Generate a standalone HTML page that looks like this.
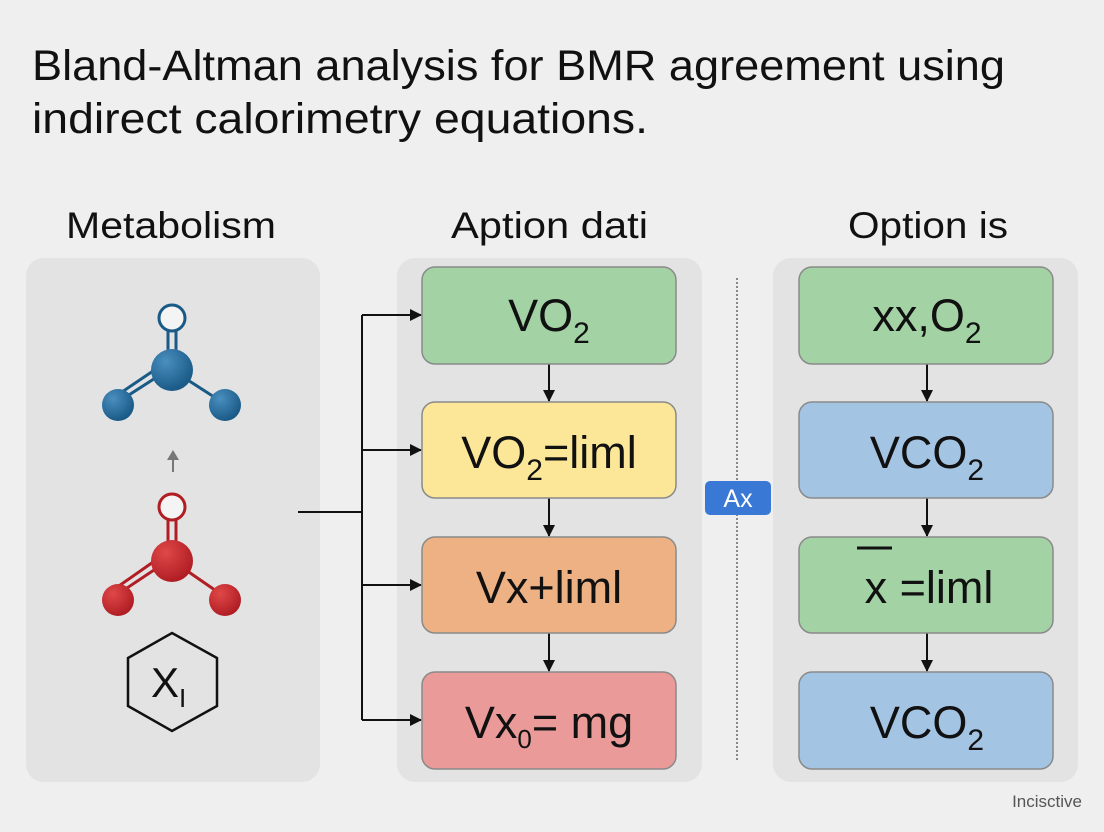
<!DOCTYPE html>
<html><head><meta charset="utf-8"><style>
html,body{margin:0;padding:0;background:#efefef;}
svg{display:block;font-family:"Liberation Sans",sans-serif;}
</style></head><body>
<svg width="1104" height="832" viewBox="0 0 1104 832" xmlns="http://www.w3.org/2000/svg">
<defs>
<marker id="ah" markerWidth="12" markerHeight="12" refX="11" refY="6" orient="auto" markerUnits="userSpaceOnUse"><path d="M0,0 L12,6 L0,12 z" fill="#111"/></marker>
<radialGradient id="bg" cx="0.35" cy="0.3" r="0.7"><stop offset="0" stop-color="#4a8fbf"/><stop offset="1" stop-color="#1a5a87"/></radialGradient>
<radialGradient id="rg" cx="0.35" cy="0.3" r="0.7"><stop offset="0" stop-color="#e04848"/><stop offset="1" stop-color="#b01e24"/></radialGradient>
</defs>
<rect width="1104" height="832" fill="#efefef"/>
<text x="32" y="80" font-size="43" fill="#111" textLength="973" lengthAdjust="spacingAndGlyphs">Bland-Altman analysis for BMR agreement using</text>
<text x="32" y="133" font-size="43" fill="#111" textLength="616" lengthAdjust="spacingAndGlyphs">indirect calorimetry equations.</text>
<text x="66" y="238" font-size="37" fill="#111" textLength="210" lengthAdjust="spacingAndGlyphs">Metabolism</text>
<text x="451" y="238" font-size="37" fill="#111" textLength="197" lengthAdjust="spacingAndGlyphs">Aption dati</text>
<text x="848" y="238" font-size="37" fill="#111" textLength="160" lengthAdjust="spacingAndGlyphs">Option is</text>
<rect x="26" y="258" width="294" height="524" rx="18" fill="#e3e3e3"/>
<rect x="397" y="258" width="305" height="524" rx="18" fill="#e3e3e3"/>
<rect x="773" y="258" width="305" height="524" rx="18" fill="#e3e3e3"/>
<g stroke="#1a5a87" stroke-width="3">
<line x1="168" y1="330" x2="168" y2="360"/><line x1="176" y1="330" x2="176" y2="360"/>
<line x1="160" y1="375" x2="118" y2="402"/><line x1="156" y1="369" x2="116" y2="396"/>
<line x1="180" y1="375" x2="225" y2="404"/>
</g>
<circle cx="172" cy="318" r="13" fill="#f4f4f4" stroke="#1a5a87" stroke-width="3"/>
<circle cx="172" cy="370" r="21" fill="url(#bg)"/>
<circle cx="118" cy="405" r="16" fill="url(#bg)"/>
<circle cx="225" cy="405" r="16" fill="url(#bg)"/>
<line x1="173" y1="472" x2="173" y2="458" stroke="#777" stroke-width="2"/>
<path d="M167,460 L173,450 L179,460 z" fill="#777"/>
<g stroke="#b01e24" stroke-width="3">
<line x1="168" y1="520" x2="168" y2="552"/><line x1="176" y1="520" x2="176" y2="552"/>
<line x1="160" y1="566" x2="118" y2="594"/><line x1="156" y1="560" x2="116" y2="588"/>
<line x1="180" y1="566" x2="225" y2="597"/>
</g>
<circle cx="172" cy="507" r="13" fill="#f4f4f4" stroke="#b01e24" stroke-width="3"/>
<circle cx="172" cy="561" r="21" fill="url(#rg)"/>
<circle cx="118" cy="600" r="16" fill="url(#rg)"/>
<circle cx="225" cy="600" r="16" fill="url(#rg)"/>
<polygon points="172,633 217,658 217,706 172,731 128,706 128,658" fill="none" stroke="#111" stroke-width="2.5"/>
<text x="151" y="697" font-size="42" fill="#111">X<tspan font-size="26" dy="10">I</tspan></text>
<g stroke="#111" stroke-width="2" fill="none">
<line x1="298" y1="512" x2="362" y2="512"/>
<line x1="362" y1="315" x2="362" y2="720"/>
<line x1="362" y1="315" x2="421" y2="315" marker-end="url(#ah)"/>
<line x1="362" y1="450" x2="421" y2="450" marker-end="url(#ah)"/>
<line x1="362" y1="585" x2="421" y2="585" marker-end="url(#ah)"/>
<line x1="362" y1="720" x2="421" y2="720" marker-end="url(#ah)"/>
<line x1="549" y1="364" x2="549" y2="401" marker-end="url(#ah)"/>
<line x1="549" y1="498" x2="549" y2="536" marker-end="url(#ah)"/>
<line x1="549" y1="633" x2="549" y2="671" marker-end="url(#ah)"/>
<line x1="927" y1="364" x2="927" y2="401" marker-end="url(#ah)"/>
<line x1="927" y1="498" x2="927" y2="536" marker-end="url(#ah)"/>
<line x1="927" y1="633" x2="927" y2="671" marker-end="url(#ah)"/>
</g>
<line x1="737" y1="278" x2="737" y2="760" stroke="#888" stroke-width="2" stroke-dasharray="2,2"/>
<rect x="705" y="481" width="66" height="34" rx="5" fill="#3a78d6"/>
<text x="738" y="507" font-size="25" fill="#fff" text-anchor="middle">Ax</text>
<g stroke="#8a8a8a" stroke-width="1.5">
<rect x="422" y="267" width="254" height="97" rx="13" fill="#a3d3a5"/>
<rect x="422" y="402" width="254" height="96" rx="13" fill="#fbe797"/>
<rect x="422" y="537" width="254" height="96" rx="13" fill="#eeb183"/>
<rect x="422" y="672" width="254" height="97" rx="13" fill="#eb9a9a"/>
<rect x="799" y="267" width="254" height="97" rx="13" fill="#a3d3a5"/>
<rect x="799" y="402" width="254" height="96" rx="13" fill="#a4c4e4"/>
<rect x="799" y="537" width="254" height="96" rx="13" fill="#a3d3a5"/>
<rect x="799" y="672" width="254" height="97" rx="13" fill="#a4c4e4"/>
</g>
<g font-size="45" fill="#111" text-anchor="middle">
<text x="549" y="331">VO<tspan font-size="30" dy="12">2</tspan></text>
<text x="549" y="468">VO<tspan font-size="30" dy="12">2</tspan><tspan dy="-12">=liml</tspan></text>
<text x="549" y="603">Vx+liml</text>
<text x="549" y="738">Vx<tspan font-size="26" dy="10">0</tspan><tspan dy="-10">= mg</tspan></text>
<text x="927" y="331">xx,O<tspan font-size="30" dy="12">2</tspan></text>
<text x="927" y="468">VCO<tspan font-size="30" dy="12">2</tspan></text>
<text x="929" y="603">x =liml</text>
<text x="927" y="738">VCO<tspan font-size="30" dy="12">2</tspan></text>
</g>
<line x1="857" y1="548" x2="892" y2="548" stroke="#111" stroke-width="3"/>
<text x="1082" y="807" font-size="17" fill="#555" text-anchor="end">Incisctive</text>
</svg>
</body></html>
